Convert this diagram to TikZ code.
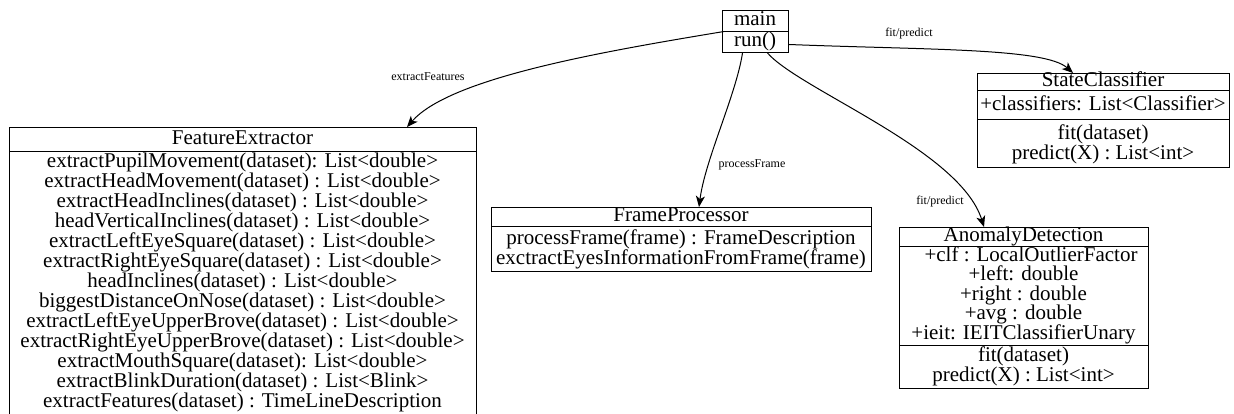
\documentclass[tikz,border=0pt]{standalone}
\usepackage{fontspec}
\setmainfont{Liberation Serif}
\usetikzlibrary{arrows.meta}
\begin{document}
\begin{tikzpicture}[x=1pt,y=-1pt,
  box/.style={draw=black, line width=1pt, inner sep=0pt, anchor=north west},
  sep/.style={draw=black, line width=1pt},
  txt/.style={inner sep=0pt, font=\fontsize{21}{20}\selectfont, text height=14.5pt, text depth=4.5pt, anchor=center},
  lbl/.style={inner sep=0pt, font=\fontsize{12}{14}\selectfont, anchor=center},
  conn/.style={draw=black, line width=1pt, -{Stealth[length=11pt,width=9pt,inset=3pt]}}]
\useasboundingbox (0,0) rectangle (1234,414);
\clip (0,0) rectangle (1234,414);
\fill[white] (0,0) rectangle (1234,414);

% main
\node[box, minimum width=66pt, minimum height=42pt] (main) at (722,10) {};
\draw[sep] (722,32) -- (788,32);
\node[txt] (mainT) at (755,21) {main};
\node[txt] (mainM) at (755,42) {run()};

% FeatureExtractor
\node[box, minimum width=467pt, minimum height=300pt] (fe) at (9,127) {};
\draw[sep] (9,152) -- (476,152);
\node[txt] (feT) at (242.5,139.5) {FeatureExtractor};
\foreach \t [count=\i from 0] in {
  extractPupilMovement(dataset): List<double>,
  extractHeadMovement(dataset) : List<double>,
  extractHeadInclines(dataset) : List<double>,
  headVerticalInclines(dataset) : List<double>,
  extractLeftEyeSquare(dataset) : List<double>,
  extractRightEyeSquare(dataset) : List<double>,
  headInclines(dataset) : List<double>,
  biggestDistanceOnNose(dataset) : List<double>,
  extractLeftEyeUpperBrove(dataset) : List<double>,
  extractRightEyeUpperBrove(dataset) : List<double>,
  extractMouthSquare(dataset): List<double>,
  extractBlinkDuration(dataset) : List<Blink>,
  extractFeatures(dataset) : TimeLineDescription}
  \node[txt] (fe\i) at (242.5,{163+19.95*\i}) {\t};

% FrameProcessor
\node[box, minimum width=380pt, minimum height=64pt] (fp) at (491,207) {};
\draw[sep] (491,227) -- (871,227);
\node[txt] (fpT) at (681,217) {FrameProcessor};
\node[txt] (fp1) at (681,239) {processFrame(frame) : FrameDescription};
\node[txt] (fp2) at (681,259) {exctractEyesInformationFromFrame(frame)};

% StateClassifier
\node[box, minimum width=252pt, minimum height=94pt] (sc) at (977,73) {};
\draw[sep] (977,91) -- (1229,91);
\draw[sep] (977,120) -- (1229,120);
\node[txt] (scT) at (1103,82) {StateClassifier};
\node[txt] (sc1) at (1103,105.5) {+classifiers: List<Classifier>};
\node[txt] (sc2) at (1103,135) {fit(dataset)};
\node[txt] (sc3) at (1103,155) {predict(X) : List<int>};

% AnomalyDetection
\node[box, minimum width=249pt, minimum height=161pt] (ad) at (899,227) {};
\draw[sep] (899,246) -- (1148,246);
\draw[sep] (899,345) -- (1148,345);
\node[txt] (adT) at (1023.5,236.5) {AnomalyDetection};
\node[txt] (ad1) at (1031,256) {+clf : LocalOutlierFactor};
\node[txt] (ad2) at (1023.5,275.5) {+left: double};
\node[txt] (ad3) at (1023.5,295) {+right : double};
\node[txt] (ad4) at (1023.5,314.5) {+avg : double};
\node[txt] (ad5) at (1023.5,334) {+ieit: IEITClassifierUnary};
\node[txt] (ad6) at (1023.5,356) {fit(dataset)};
\node[txt] (ad7) at (1023.5,376) {predict(X) : List<int>};

% connectors
\draw[conn] ([xshift=2pt]main.west) .. controls (600,52) and (450,78) .. ([xshift=398pt]fe.north west);
\draw[conn] ([xshift=-13pt]main.south) .. controls (736,95) and (705,160) .. ([xshift=208pt]fp.north west);
\draw[conn] ([xshift=12pt]main.south) .. controls (800,90) and (960,150) .. ([xshift=85pt]ad.north west);
\draw[conn] ([yshift=-13pt]main.east) .. controls (930,50) and (1045,48) .. ([xshift=96pt]sc.north west);

% labels
\node[lbl] (l1) at (428,77) {extractFeatures};
\node[lbl] (l2) at (752,165) {processFrame};
\node[lbl] (l3) at (909,34) {fit/predict};
\node[lbl] (l4) at (940,202) {fit/predict};
\end{tikzpicture}
\end{document}
